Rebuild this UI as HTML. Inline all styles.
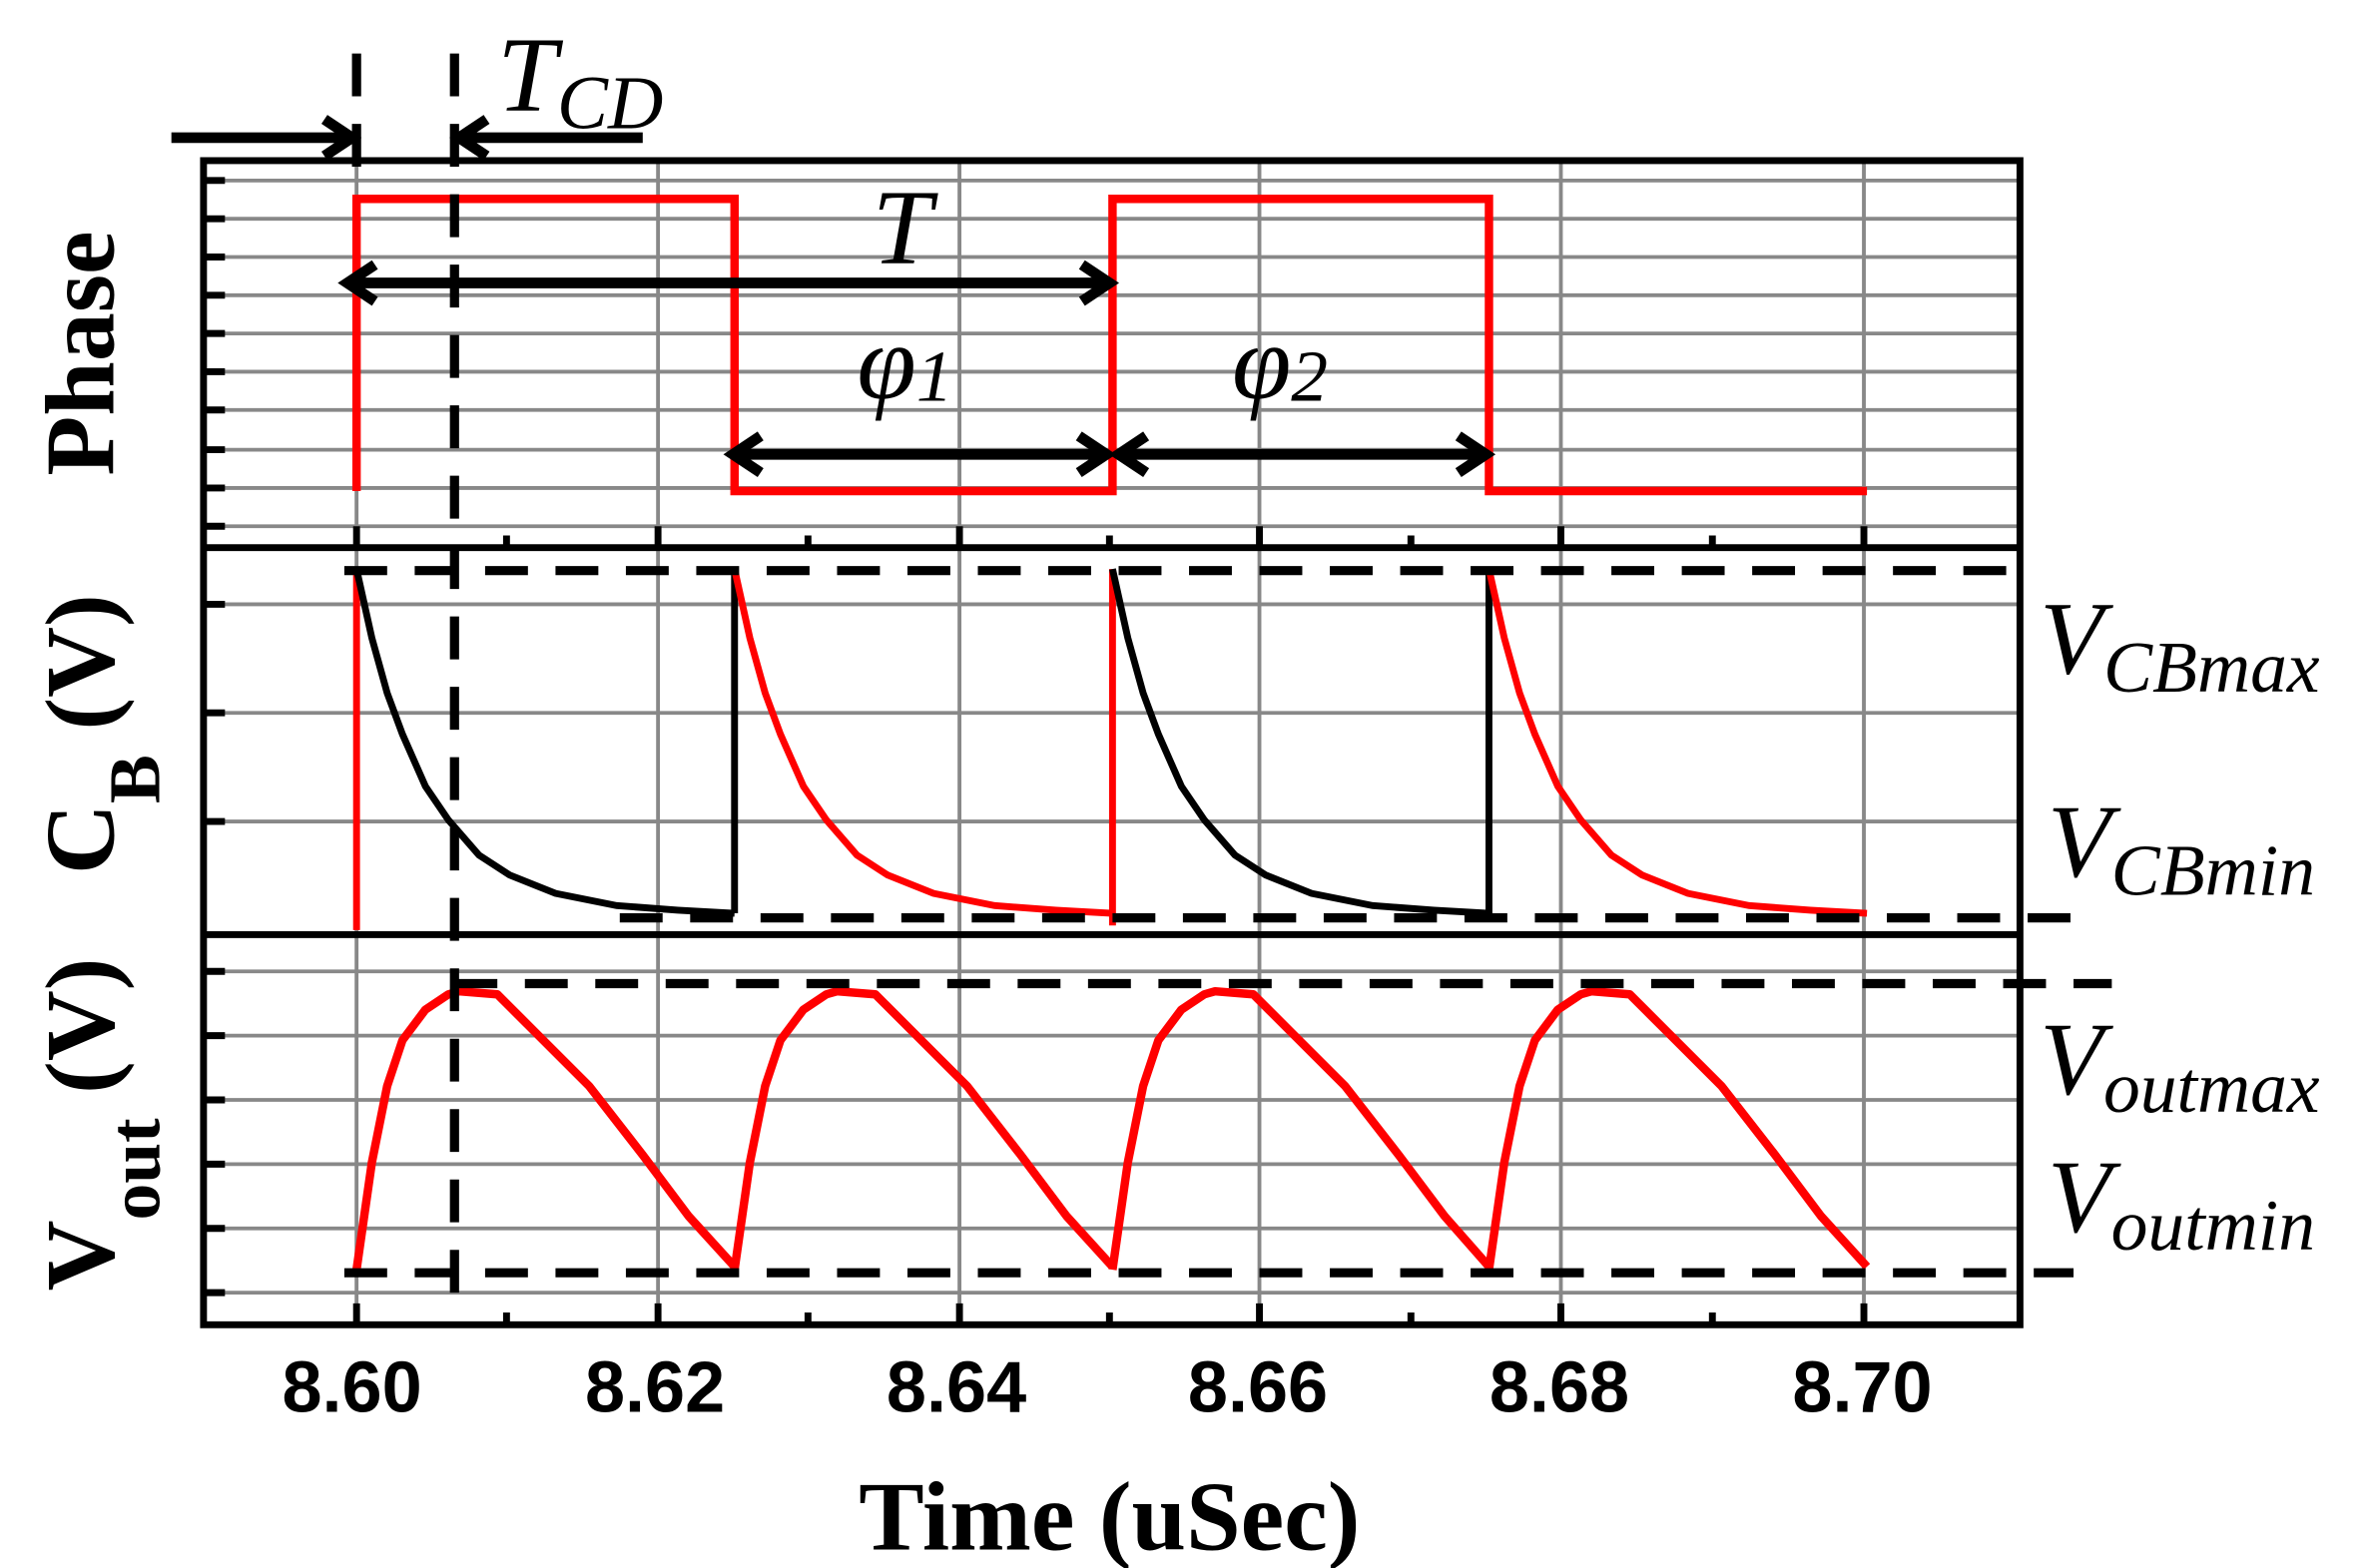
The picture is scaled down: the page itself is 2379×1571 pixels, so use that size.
<!DOCTYPE html>
<html><head><style>html,body{margin:0;padding:0;background:#fff}svg{display:block}</style></head>
<body>
<svg width="2379" height="1571" viewBox="0 0 1552 1025" preserveAspectRatio="none" xmlns="http://www.w3.org/2000/svg">
<g stroke="#888" stroke-width="2.5" fill="none">
<path d="M133 118H1320M133 143H1320M133 168H1320M133 193H1320M133 218H1320M133 243H1320M133 268H1320M133 294H1320M133 319H1320M133 344H1320"/>
<path d="M133 395H1320M133 466H1320M133 537H1320"/>
<path d="M133 635H1320M133 677H1320M133 719H1320M133 761H1320M133 803H1320M133 845H1320"/>
<path d="M233 105V866M430 105V866M627 105V866M823 105V866M1020 105V866M1218 105V866"/>
</g>
<g stroke="#000" stroke-width="4.5" fill="none">
<rect x="133" y="105" width="1187" height="761"/>
<path d="M133 358H1320M133 611H1320"/>
<path d="M133 118h14M133 143h14M133 168h14M133 193h14M133 218h14M133 243h14M133 268h14M133 294h14M133 319h14M133 344h14M133 395h14M133 466h14M133 537h14M133 635h14M133 677h14M133 719h14M133 761h14M133 803h14M133 845h14"/>
<path d="M233 358v-14M430 358v-14M627 358v-14M823 358v-14M1020 358v-14M1218 358v-14M331 358v-8M528 358v-8M725 358v-8M922 358v-8M1119 358v-8"/>
<path d="M233 866v-14M430 866v-14M627 866v-14M823 866v-14M1020 866v-14M1218 866v-14M331 866v-8M528 866v-8M725 866v-8M922 866v-8M1119 866v-8"/>
</g>
<path d="M233 321V130H480V321H727V130H973V321H1220" stroke="#f00" stroke-width="5.5" fill="none"/>
<g stroke-width="4.5" fill="none">
<path d="M233 608V372" stroke="#f00"/>
<path d="M233 372L243 417L253 453L263 480L278 514L293 536L313 559L333 572L363 584L403 592L443 595L480 597" stroke="#000"/>
<path d="M480 597V372" stroke="#000"/>
<path d="M480 372L490 417L500 453L510 480L525 514L540 536L560 559L580 572L610 584L650 592L690 595L727 597" stroke="#f00"/>
<path d="M727 605V372" stroke="#f00"/>
<path d="M727 372L737 417L747 453L757 480L772 514L787 536L807 559L827 572L857 584L897 592L937 595L973 597" stroke="#000"/>
<path d="M973 597V372" stroke="#000"/>
<path d="M973 372L983 417L993 453L1003 480L1018 514L1033 536L1053 559L1073 572L1103 584L1143 592L1183 595L1220 597" stroke="#f00"/>
</g>
<g stroke="#f00" stroke-width="5.5" fill="none" stroke-linejoin="round">
<path d="M233 830L243 760L253 710L263 680L278 660L293 650L300 648L325 650L350 675L385 710L420 755L450 795L480 828"/>
<path d="M480 830L490 760L500 710L510 680L525 660L540 650L547 648L572 650L597 675L632 710L667 755L697 795L727 828"/>
<path d="M727 830L737 760L747 710L757 680L772 660L787 650L794 648L819 650L844 675L879 710L914 755L944 795L973 828"/>
<path d="M973 830L983 760L993 710L1003 680L1018 660L1033 650L1040 648L1065 650L1090 675L1125 710L1160 755L1190 795L1220 828"/>
</g>
<g stroke="#000" stroke-width="6" fill="none" stroke-dasharray="28 18">
<path d="M233 35V110"/>
<path d="M297 35V860"/>
<path d="M225 373H1320"/>
<path d="M405 600H1370"/>
<path d="M297 643H1380"/>
<path d="M225 832H1355"/>
</g>
<g stroke="#000" stroke-width="7" fill="none">
<path d="M112 90H228M212 78L230 90L212 102"/>
<path d="M302 90H420M318 78L300 90L318 102"/>
<path d="M228 185H724M245 173L227 185L245 197M707 173L725 185L707 197"/>
<path d="M480 297H722M497 285L479 297L497 309M705 285L723 297L705 309"/>
<path d="M732 297H970M749 285L731 297L749 309M953 285L971 297L953 309"/>
</g>
<g font-family="Liberation Serif, serif" font-style="italic" fill="#000">
<text x="325" y="72" font-size="70">T<tspan font-size="50" dy="12">CD</tspan></text>
<text x="570" y="172" font-size="70">T</text>
<text x="560" y="260" font-size="70">φ<tspan font-size="48" dy="2">1</tspan></text>
<text x="805" y="260" font-size="70">φ<tspan font-size="48" dy="2">2</tspan></text>
<text x="1333" y="440" font-size="68">V<tspan font-size="48" dy="12">CBmax</tspan></text>
<text x="1338" y="573" font-size="68">V<tspan font-size="48" dy="12">CBmin</tspan></text>
<text x="1333" y="715" font-size="68">V<tspan font-size="48" dy="12">outmax</tspan></text>
<text x="1338" y="805" font-size="68">V<tspan font-size="48" dy="12">outmin</tspan></text>
</g>
<g font-family="Liberation Sans, sans-serif" font-weight="bold" font-size="47" text-anchor="middle">
<text x="230" y="923">8.60</text><text x="428" y="923">8.62</text><text x="625" y="923">8.64</text>
<text x="822" y="923">8.66</text><text x="1019" y="923">8.68</text><text x="1217" y="923">8.70</text>
</g>
<text x="725" y="1013" font-family="Liberation Serif, serif" font-weight="bold" font-size="64" text-anchor="middle">Time (uSec)</text>
<g font-family="Liberation Serif, serif" font-weight="bold" font-size="64" text-anchor="middle">
<text transform="translate(74 231) rotate(-90)">Phase</text>
<text transform="translate(74 480) rotate(-90)">C<tspan font-size="48" dy="30">B</tspan><tspan dy="-30"> (V)</tspan></text>
<text transform="translate(74 735) rotate(-90)">V<tspan font-size="48" dy="30">out</tspan><tspan dy="-30"> (V)</tspan></text>
</g>
</svg>
</body></html>
